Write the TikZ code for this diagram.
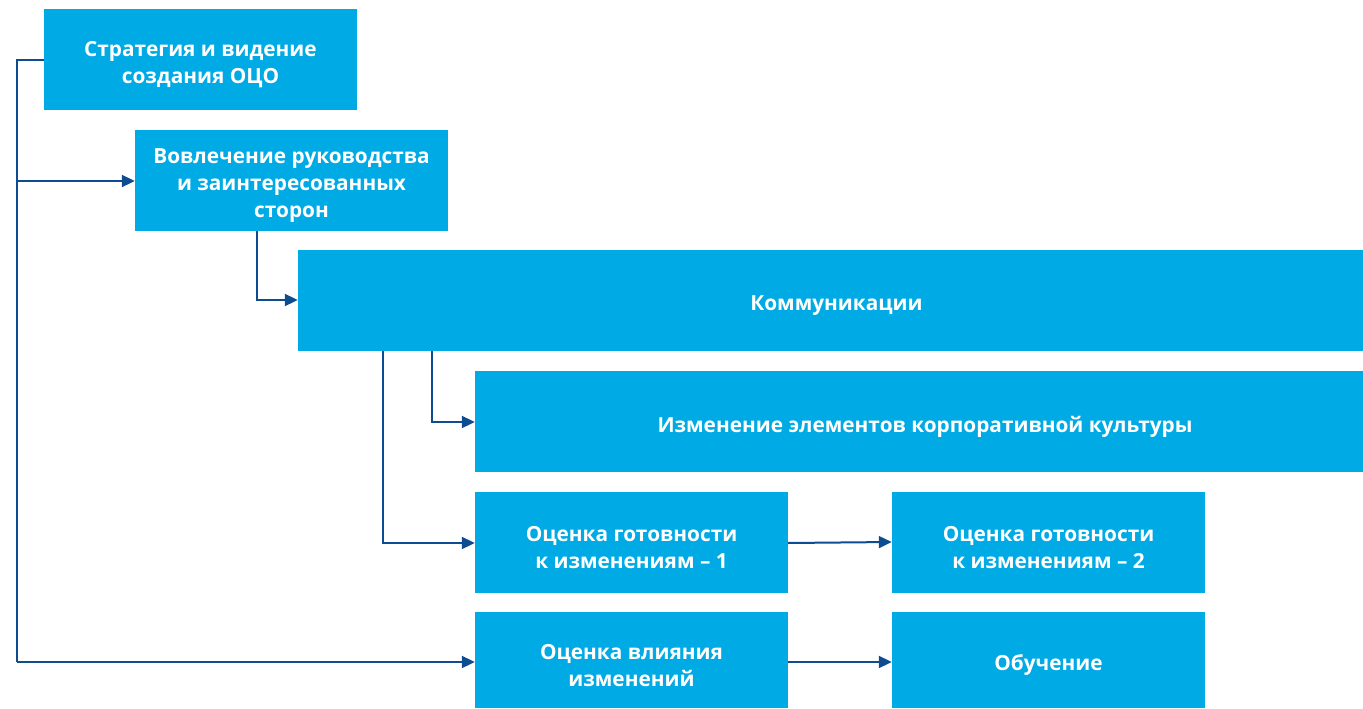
\documentclass[tikz,border=0pt]{standalone}
\usepackage{fontspec}
\setmainfont{Open Sans}
\usetikzlibrary{arrows.meta}
\definecolor{boxblue}{HTML}{00AAE4}
\definecolor{lineblue}{HTML}{0E4C92}
\begin{document}
\begin{tikzpicture}[x=1pt,y=-1pt,
  box/.style={fill=boxblue,draw=none,inner sep=0pt},
  lbl/.style={text=white,align=center,inner sep=0pt,yshift=-5.5pt,
    font=\fontsize{20.8}{27}\selectfont\bfseries},
  conn/.style={draw=lineblue,line width=2pt,-{Triangle[length=13pt,width=12pt]}},
  plain/.style={draw=lineblue,line width=2pt}]
\useasboundingbox (0,0) rectangle (1363,709);
\node[box,minimum width=313pt,minimum height=101pt,label={[lbl]center:Стратегия и видение\\создания ОЦО}] (b1) at (200.5,59.5) {};
\node[box,minimum width=313pt,minimum height=101pt,label={[lbl]center:Вовлечение руководства\\и заинтересованных\\сторон}] (b2) at (291.5,180.5) {};
\node[box,minimum width=1065pt,minimum height=101pt,label={[lbl,xshift=6pt]center:Коммуникации}] (b3) at (830.5,300.5) {};
\node[box,minimum width=888pt,minimum height=101pt,label={[lbl,xshift=6pt]center:Изменение элементов корпоративной культуры}] (b4) at (919,421.5) {};
\node[box,minimum width=313pt,minimum height=101pt,label={[lbl]center:Оценка готовности\\к изменениям – 1}] (b5) at (631.5,542.5) {};
\node[box,minimum width=313pt,minimum height=101pt,label={[lbl]center:Оценка готовности\\к изменениям – 2}] (b6) at (1048.5,542.5) {};
\node[box,minimum width=313pt,minimum height=96pt,label={[lbl]center:Оценка влияния\\изменений}] (b7) at (631.5,660) {};
\node[box,minimum width=313pt,minimum height=96pt,label={[lbl]center:Обучение}] (b8) at (1048.5,660) {};
\coordinate (t) at (17,60);
\draw[plain] (b1.west |- t) -- (t) -- (17,662);
\draw[conn] (17,181) -- (b2.west |- 0,181);
\draw[conn] (17,662) -- (b7.west |- 0,662);
\draw[conn] (257,231) -- (257,300) -- (b3.west |- 0,300);
\draw[conn] (432,351) -- (432,422) -- (b4.west |- 0,422);
\draw[conn] (383,351) -- (383,543) -- (b5.west |- 0,543);
\draw[conn] (b5.east |- 0,543) -- (b6.west |- 0,542);
\draw[conn] (b7.east |- 0,662) -- (b8.west |- 0,662);
\end{tikzpicture}
\end{document}
